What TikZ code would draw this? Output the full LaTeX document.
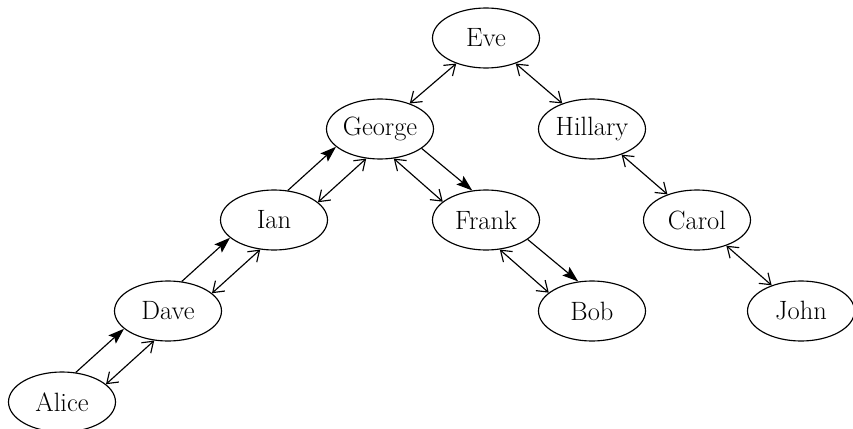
\documentclass[tikz,border=0pt]{standalone}
\usetikzlibrary{shapes.geometric,arrows.meta}
\begin{document}
\begin{tikzpicture}[x=1pt,y=-1pt,
  person/.style={ellipse,draw,line width=1.15pt,minimum width=107pt,minimum height=60pt,
    inner sep=0pt,font=\fontsize{26.5}{32}\selectfont},
  link/.style={line width=1.15pt},
  both/.style={link,{Straight Barb[length=10pt,width=14pt]}-{Straight Barb[length=10pt,width=14pt]}},
  lead/.style={link,-{Stealth[length=16pt,width=11pt,inset=3pt]}}]
\useasboundingbox (0,0) rectangle (853,428);

% people
\node[person] (eve)     at (486,38)  {Eve};
\node[person] (george)  at (380,129) {George};
\node[person] (hillary) at (592,129) {Hillary};
\node[person] (ian)     at (274,220) {Ian};
\node[person] (frank)   at (486,220) {Frank};
\node[person] (carol)   at (697,220) {Carol};
\node[person] (dave)    at (168,311) {Dave};
\node[person] (bob)     at (592,311) {Bob};
\node[person] (john)    at (801,311) {John};
\node[person] (alice)   at (62,402)  {Alice};

% single two-way links
\draw[both] (eve) -- (george);
\draw[both] (eve) -- (hillary);
\draw[both] (hillary) -- (carol);
\draw[both] (carol) -- (john);

% paired links going up to the right
\draw[lead] (alice.65)   -- (dave.202.5);
\draw[both] (alice.22.5) -- (dave.245);
\draw[lead] (dave.65)    -- (ian.202.5);
\draw[both] (dave.22.5)  -- (ian.245);
\draw[lead] (ian.65)     -- (george.202.5);
\draw[both] (ian.22.5)   -- (george.245);

% paired links going down to the right
\draw[lead] (george.-25) -- (frank.115);
\draw[both] (george.-65) -- (frank.157.5);
\draw[lead] (frank.-25)  -- (bob.115);
\draw[both] (frank.-65)  -- (bob.157.5);
\end{tikzpicture}
\end{document}
